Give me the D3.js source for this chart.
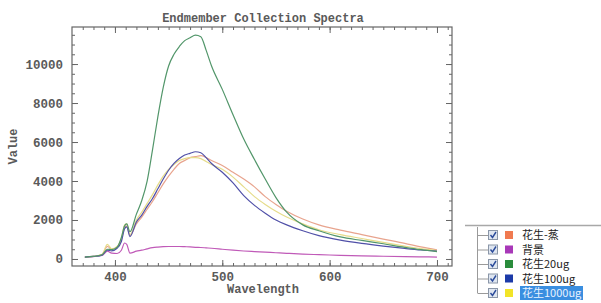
<!DOCTYPE html>
<html>
<head>
<meta charset="utf-8">
<script src="https://cdn.jsdelivr.net/npm/d3@7"></script>
<style>
  body { margin: 0; background: #fff; }
  svg { display: block; }
</style>
</head>
<body>
<div id="chart-area"></div>
<script>
// wavelengths (nm)
const wavelength = [372, 380, 388, 393, 397, 402, 406, 409, 411, 414, 420, 425, 430, 435, 440, 445, 450, 455, 460, 465,
  470, 475, 480, 485, 490, 500, 510, 520, 530, 540, 550, 560, 575, 590, 610, 630, 650, 670, 685, 700];

const steamed = [100, 130, 230, 650, 500, 620, 1000, 1600, 1700, 1200, 1800, 2150, 2550, 2950, 3400, 3850, 4250, 4600, 4900, 5050,
  5200, 5250, 5300, 5200, 5050, 4800, 4450, 4100, 3700, 3200, 2800, 2450, 2050, 1750, 1480, 1250, 1020, 800, 620, 470];
const background = [100, 120, 180, 400, 300, 280, 450, 820, 750, 300, 400, 450, 520, 580, 610, 630, 640, 640, 640, 630,
  620, 600, 590, 570, 550, 500, 450, 410, 380, 350, 320, 290, 250, 220, 190, 160, 140, 120, 110, 100];
const ug20 = [100, 130, 220, 500, 480, 600, 1100, 1700, 1800, 1400, 2300, 3000, 4000, 5600, 7300, 8800, 9900, 10500, 10900, 11200,
  11350, 11480, 11400, 10700, 9900, 8700, 7400, 6150, 5100, 4100, 3150, 2400, 1750, 1450, 1130, 950, 780, 600, 480, 380];
const ug100 = [100, 130, 200, 450, 420, 550, 900, 1550, 1650, 1150, 1900, 2250, 2700, 3100, 3600, 4100, 4550, 4900, 5150, 5330,
  5420, 5500, 5450, 5200, 4900, 4450, 3900, 3250, 2750, 2350, 2000, 1750, 1450, 1200, 970, 800, 660, 540, 460, 400];
const ug1000 = [100, 140, 240, 750, 520, 640, 1050, 1750, 1800, 1250, 2000, 2400, 2850, 3300, 3800, 4250, 4600, 4850, 5050, 5150,
  5200, 5200, 5150, 5000, 4850, 4600, 4200, 3700, 3200, 2800, 2450, 2150, 1800, 1500, 1250, 1050, 850, 660, 530, 430];

const names = ["花生-蒸", "背景", "花生20ug", "花生100ug", "花生1000ug"];
const lineColors = ["#e8a48e", "#c05ab8", "#52966a", "#5050a8", "#e6dc8a"];
const swatchColors = ["#f07a50", "#a838b8", "#2a8c3c", "#1c3aa8", "#f2e428"];
const xTicks = [400, 500, 600, 700];
const yTicks = [0, 2000, 4000, 6000, 8000, 10000];

const series = [steamed, background, ug20, ug100, ug1000];

const svgW = 601, svgH = 303;
const margin = { left: 72, right: 149, top: 27, bottom: 37 };
const chartW = svgW - margin.left - margin.right;
const chartH = svgH - margin.top - margin.bottom;

const x = d3.scaleLinear().domain([360, 714]).range([0, chartW]);
const y = d3.scaleLinear().domain([-360, 11900]).range([chartH, 0]);

const svg = d3.select("#chart-area").append("svg")
  .attr("width", svgW)
  .attr("height", svgH);

const font = "'Liberation Mono', monospace";
const textColor = "#5a5a5a";

const g = svg.append("g")
  .attr("transform", `translate(${margin.left},${margin.top})`);

// lines (drawn under the frame)
const line = d3.line()
  .x((d, i) => x(wavelength[i]))
  .y(d => y(d))
  .curve(d3.curveMonotoneX);

// draw order: background first, then the peanut spectra
[1, 0, 4, 3, 2].forEach(k => {
  g.append("path")
    .datum(series[k])
    .attr("fill", "none")
    .attr("stroke", lineColors[k])
    .attr("stroke-width", 1.2)
    .attr("d", line);
});

// minor ticks
const xMinor = d3.range(370, 714, 10);
const yMinor = d3.range(0, 11900, 500);

const styleAxis = sel => {
  sel.select(".domain").remove();
  sel.selectAll("line").attr("stroke", "#666");
  sel.selectAll("text")
    .attr("fill", textColor)
    .attr("font-family", font)
    .attr("font-weight", "bold")
    .attr("font-size", 12.5);
};

g.append("g").attr("transform", `translate(0,${chartH})`)
  .call(d3.axisBottom(x).tickValues(xMinor).tickSize(-3).tickFormat(""))
  .call(styleAxis);
g.append("g").attr("transform", `translate(0,${chartH})`)
  .call(d3.axisBottom(x).tickValues(xTicks).tickSize(-6).tickPadding(6).tickFormat(d3.format("d")))
  .call(styleAxis);
g.append("g")
  .call(d3.axisTop(x).tickValues(xMinor).tickSize(-3).tickFormat(""))
  .call(styleAxis);
g.append("g")
  .call(d3.axisTop(x).tickValues(xTicks).tickSize(-6).tickFormat(""))
  .call(styleAxis);

g.append("g")
  .call(d3.axisLeft(y).tickValues(yMinor).tickSize(-3).tickFormat(""))
  .call(styleAxis);
g.append("g")
  .call(d3.axisLeft(y).tickValues(yTicks).tickSize(-6).tickPadding(9).tickFormat(d3.format("d")))
  .call(styleAxis);
g.append("g").attr("transform", `translate(${chartW},0)`)
  .call(d3.axisRight(y).tickValues(yMinor).tickSize(-3).tickFormat(""))
  .call(styleAxis);
g.append("g").attr("transform", `translate(${chartW},0)`)
  .call(d3.axisRight(y).tickValues(yTicks).tickSize(-6).tickFormat(""))
  .call(styleAxis);

// frame
g.append("rect")
  .attr("width", chartW)
  .attr("height", chartH)
  .attr("fill", "none")
  .attr("stroke", "#666")
  .attr("stroke-width", 1.2);

// title and axis labels
svg.append("text")
  .attr("x", margin.left + chartW / 2 + 1)
  .attr("y", 22)
  .attr("text-anchor", "middle")
  .attr("fill", textColor)
  .attr("font-family", font)
  .attr("font-weight", "bold")
  .attr("font-size", 12)
  .text("Endmember Collection Spectra");

svg.append("text")
  .attr("x", margin.left + chartW / 2 + 1)
  .attr("y", 293)
  .attr("text-anchor", "middle")
  .attr("fill", textColor)
  .attr("font-family", font)
  .attr("font-weight", "bold")
  .attr("font-size", 12)
  .text("Wavelength");

svg.append("text")
  .attr("transform", `translate(17,${margin.top + chartH / 2}) rotate(-90)`)
  .attr("text-anchor", "middle")
  .attr("fill", textColor)
  .attr("font-family", font)
  .attr("font-weight", "bold")
  .attr("font-size", 12)
  .text("Value");

// legend (tree view)
const legend = svg.append("g");
const rowY = i => 235 + i * 14.5;

legend.append("line")
  .attr("x1", 465).attr("x2", 601)
  .attr("y1", 225.5).attr("y2", 225.5)
  .attr("stroke", "#a8a8a8").attr("stroke-width", 1.5);

legend.append("line")
  .attr("x1", 477.5).attr("x2", 477.5)
  .attr("y1", 227).attr("y2", rowY(4))
  .attr("stroke", "#9a9a9a");

names.forEach((name, i) => {
  const cy = rowY(i);
  const row = legend.append("g");
  row.append("line")
    .attr("x1", 477.5).attr("x2", 488)
    .attr("y1", cy + 0.5).attr("y2", cy + 0.5)
    .attr("stroke", "#9a9a9a");
  row.append("rect")
    .attr("x", 488.5).attr("y", cy - 4.5)
    .attr("width", 9).attr("height", 9)
    .attr("fill", "#dfe6f0")
    .attr("stroke", "#8a96a8");
  row.append("path")
    .attr("d", `M490.5,${cy} L492.5,${cy + 2.5} L496,${cy - 3}`)
    .attr("fill", "none")
    .attr("stroke", "#2a4a9a")
    .attr("stroke-width", 1.4);
  row.append("rect")
    .attr("x", 505).attr("y", cy - 4)
    .attr("width", 8).attr("height", 8)
    .attr("fill", swatchColors[i]);
  if (i === names.length - 1) {
    row.append("rect")
      .attr("x", 520).attr("y", cy - 7)
      .attr("width", 63).attr("height", 14)
      .attr("fill", "#3a8ee0");
  }
  row.append("text")
    .attr("x", 522)
    .attr("y", cy + 4)
    .attr("fill", i === names.length - 1 ? "#e8f2ff" : "#222")
    .attr("font-family", "'Noto Sans CJK SC', sans-serif")
    .attr("font-size", 11)
    .text(name);
});
</script>
</body>
</html>
